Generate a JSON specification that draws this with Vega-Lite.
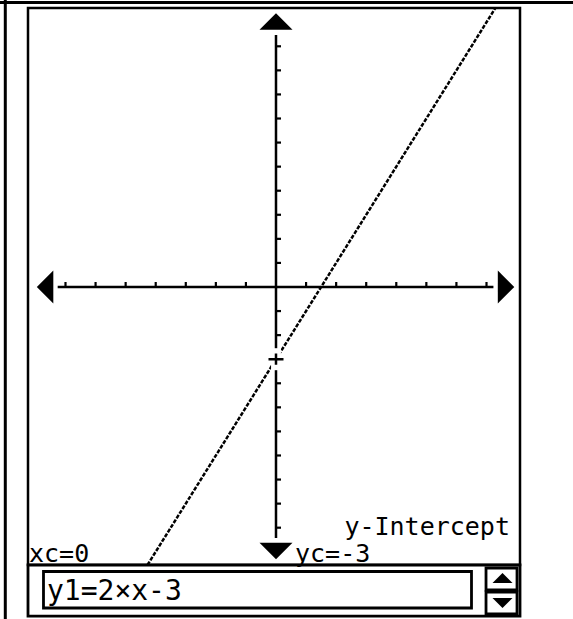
{
  "$schema": "https://vega.github.io/schema/vega-lite/v6.json",
  "width": 492,
  "height": 557,
  "autosize": {"type": "none"},
  "padding": {"left": 28, "top": 8, "right": 53, "bottom": 54},
  "background": "white",
  "config": {"view": {"stroke": "black", "strokeWidth": 2.5}},
  "datasets": {
    "panel": [
      {"part": "panel", "x": -8.247, "x2": 8.114, "y": -11.55, "y2": -13.67},
      {"part": "input", "x": -7.732, "x2": 6.501, "y": -11.82, "y2": -13.336},
      {"part": "btnUp", "x": 6.984, "x2": 8.015, "y": -11.674, "y2": -12.588},
      {"part": "btnDown", "x": 6.984, "x2": 8.015, "y": -12.671, "y2": -13.585}
    ],
    "borders": [
      {"x": -9.2, "x2": 9.9, "y": 11.82, "y2": 11.82},
      {"x": -9.002, "x2": -9.002, "y": 12.0, "y2": -13.9}
    ],
    "axes": [
      {"x": -7.26, "x2": 7.23, "y": 0, "y2": 0},
      {"x": 0, "x2": 0, "y": 10.47, "y2": -10.43}
    ],
    "xticks": [
      {"x": -7, "y": 0}, {"x": -6, "y": 0}, {"x": -5, "y": 0}, {"x": -4, "y": 0}, {"x": -3, "y": 0}, {"x": -2, "y": 0}, {"x": -1, "y": 0},
      {"x": 1, "y": 0}, {"x": 2, "y": 0}, {"x": 3, "y": 0}, {"x": 4, "y": 0}, {"x": 5, "y": 0}, {"x": 6, "y": 0}, {"x": 7, "y": 0}
    ],
    "yticks": [
      {"x": 0, "y": -10}, {"x": 0, "y": -9}, {"x": 0, "y": -8}, {"x": 0, "y": -7}, {"x": 0, "y": -6}, {"x": 0, "y": -5}, {"x": 0, "y": -4}, {"x": 0, "y": -3}, {"x": 0, "y": -2}, {"x": 0, "y": -1},
      {"x": 0, "y": 1}, {"x": 0, "y": 2}, {"x": 0, "y": 3}, {"x": 0, "y": 4}, {"x": 0, "y": 5}, {"x": 0, "y": 6}, {"x": 0, "y": 7}, {"x": 0, "y": 8}, {"x": 0, "y": 9}, {"x": 0, "y": 10}
    ],
    "arrows": [
      {"dir": "up", "x": 0, "y": 11.03},
      {"dir": "down", "x": 0, "y": -10.97},
      {"dir": "left", "x": -7.68, "y": 0},
      {"dir": "right", "x": 7.65, "y": 0}
    ],
    "graph": [
      {"x": -4.275, "y": -11.55},
      {"x": 7.295, "y": 11.59}
    ],
    "cursor": [{"x": 0, "y": -3}],
    "labels": [
      {"role": "left", "label": "xc=0", "x": -8.214, "y": -11.445},
      {"role": "left", "label": "yc=-3", "x": 0.632, "y": -11.445},
      {"role": "right", "label": "y-Intercept", "x": 7.78, "y": -10.32},
      {"role": "input", "label": "y1=2×x-3", "x": -7.616, "y": -13.0}
    ],
    "icons": [
      {"dir": "up", "x": 7.532, "y": -12.09},
      {"dir": "down", "x": 7.532, "y": -13.13}
    ]
  },
  "encoding": {
    "x": {"field": "x", "type": "quantitative", "scale": {"domain": [-8.247, 8.114], "nice": false, "zero": false}, "axis": null},
    "y": {"field": "y", "type": "quantitative", "scale": {"domain": [-11.55, 11.591], "nice": false, "zero": false}, "axis": null}
  },
  "layer": [
    {
      "data": {"name": "panel"},
      "mark": {"type": "rect", "fill": "white", "stroke": "black", "strokeWidth": 2.8},
      "encoding": {"x2": {"field": "x2"}, "y2": {"field": "y2"}}
    },
    {
      "data": {"name": "borders"},
      "mark": {"type": "rule", "color": "black", "strokeWidth": 3},
      "encoding": {"x2": {"field": "x2"}, "y2": {"field": "y2"}}
    },
    {
      "data": {"name": "axes"},
      "mark": {"type": "rule", "color": "black", "strokeWidth": 2.5},
      "encoding": {"x2": {"field": "x2"}, "y2": {"field": "y2"}}
    },
    {
      "data": {"name": "xticks"},
      "mark": {"type": "point", "filled": false, "color": "black", "opacity": 1, "strokeWidth": 2.2, "size": 100, "shape": "M0,0L0,-1"},
      "encoding": {}
    },
    {
      "data": {"name": "yticks"},
      "mark": {"type": "point", "filled": false, "color": "black", "opacity": 1, "strokeWidth": 2.2, "size": 100, "shape": "M0,0L1,0"},
      "encoding": {}
    },
    {
      "data": {"name": "arrows"},
      "mark": {"type": "point", "filled": true, "color": "black", "opacity": 1, "size": 1089},
      "encoding": {
        "shape": {"field": "dir", "type": "nominal", "legend": null,
          "scale": {"domain": ["up", "down", "left", "right"],
            "range": ["M-1,0.5L1,0.5L0,-0.5Z", "M-1,-0.5L1,-0.5L0,0.5Z", "M0.5,-1L0.5,1L-0.5,0Z", "M-0.5,-1L-0.5,1L0.5,0Z"]}}
      }
    },
    {
      "data": {"name": "graph"},
      "mark": {"type": "line", "color": "black", "strokeWidth": 2.5, "strokeDash": [4, 1.5]},
      "encoding": {}
    },
    {
      "data": {"name": "cursor"},
      "mark": {"type": "point", "filled": true, "color": "white", "opacity": 1, "size": 484, "shape": "M-0.45,-1H0.45V1H-0.45Z"},
      "encoding": {}
    },
    {
      "data": {"name": "cursor"},
      "mark": {"type": "point", "filled": false, "color": "black", "opacity": 1, "strokeWidth": 2.5, "size": 225, "shape": "M-1,0H1M0,-0.75V0.75"},
      "encoding": {}
    },
    {
      "data": {"name": "labels"},
      "transform": [{"filter": "datum.role === 'left'"}],
      "mark": {"type": "text", "align": "left", "baseline": "alphabetic", "font": "DejaVu Sans Mono", "fontSize": 25, "color": "black"},
      "encoding": {"text": {"field": "label"}}
    },
    {
      "data": {"name": "labels"},
      "transform": [{"filter": "datum.role === 'right'"}],
      "mark": {"type": "text", "align": "right", "baseline": "alphabetic", "font": "DejaVu Sans Mono", "fontSize": 25, "color": "black"},
      "encoding": {"text": {"field": "label"}}
    },
    {
      "data": {"name": "labels"},
      "transform": [{"filter": "datum.role === 'input'"}],
      "mark": {"type": "text", "align": "left", "baseline": "alphabetic", "font": "DejaVu Sans Mono", "fontSize": 28, "color": "black"},
      "encoding": {"text": {"field": "label"}}
    },
    {
      "data": {"name": "icons"},
      "mark": {"type": "point", "filled": true, "color": "black", "opacity": 1, "size": 400},
      "encoding": {
        "shape": {"field": "dir", "type": "nominal", "legend": null,
          "scale": {"domain": ["up", "down"],
            "range": ["M0,-0.8L0.7,-0.1L-0.7,-0.1Z M-1,-0.1H1V0.15H-1Z M-0.25,0.15H0.25V0.7H-0.25Z", "M0,0.8L0.7,0.1L-0.7,0.1Z M-1,0.1H1V-0.15H-1Z M-0.25,-0.15H0.25V-0.7H-0.25Z"]}}
      }
    }
  ]
}
